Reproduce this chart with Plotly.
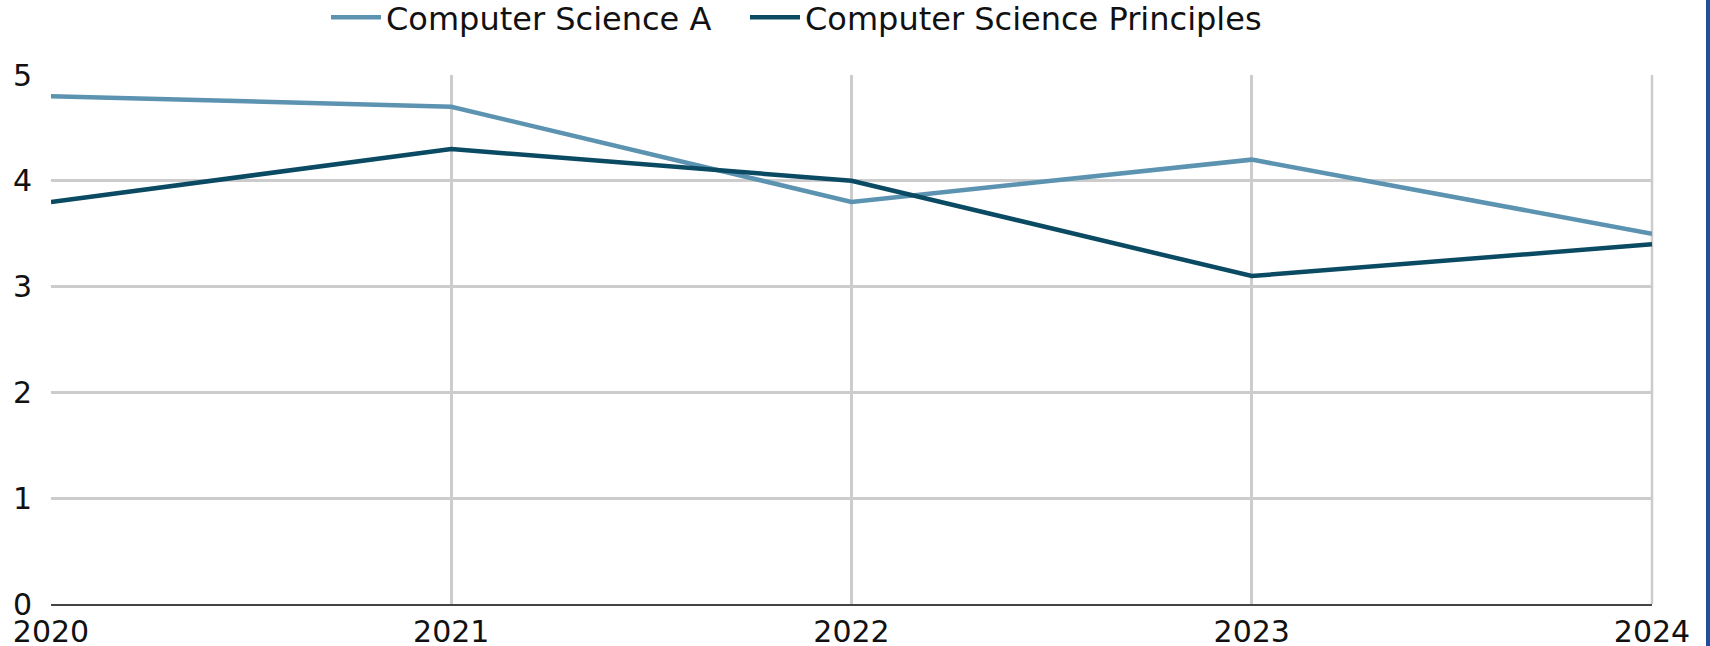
import plotly.graph_objects as go

years = ["2020", "2021", "2022", "2023", "2024"]
cs_a = [4.8, 4.7, 3.8, 4.2, 3.5]
cs_p = [3.8, 4.3, 4.0, 3.1, 3.4]
series_names = ["Computer Science A", "Computer Science Principles"]
series_colors = ["#5b93b1", "#0a4a63"]
y_ticks = [0, 1, 2, 3, 4, 5]

FONT = "DejaVu Sans"
L, T = 51, 75
W, H = 1710, 646
PW, PH = 1601, 529
R, B = W - L - PW, H - T - PH

fig = go.Figure()
for i, (name, vals, col) in enumerate(zip(series_names, [cs_a, cs_p], series_colors)):
    fig.add_trace(go.Scatter(
        x=list(range(len(years))), y=vals, name=name, mode="lines",
        line=dict(color=col, width=4.5),
        legend="legend" if i == 0 else "legend2",
    ))

def legend_box(px_left):
    return dict(orientation="h", x=(px_left - L) / PW, xanchor="left",
                y=(H - B + 10) / PH, yanchor="top",
                font=dict(family=FONT, size=32, color="#111111"),
                itemwidth=50, bgcolor="rgba(0,0,0,0)", borderwidth=0)

fig.update_layout(
    width=W, height=H,
    margin=dict(l=L, r=R, t=T, b=B, autoexpand=False),
    paper_bgcolor="white", plot_bgcolor="white",
    font=dict(family=FONT, size=30, color="#111111"),
    showlegend=True,
    legend=legend_box(326),
    legend2=legend_box(745),
    xaxis=dict(
        tickmode="array", tickvals=list(range(len(years))), ticktext=years,
        range=[0, len(years) - 1], automargin=False,
        showgrid=True, gridcolor="#cccccc", gridwidth=2.5,
        showline=True, linecolor="#444444", linewidth=2,
        ticks="", zeroline=False,
        tickfont=dict(family=FONT, size=30, color="#111111"),
        ticklabelstandoff=0,
    ),
    yaxis=dict(
        tickmode="array", tickvals=y_ticks, ticktext=[str(v) for v in y_ticks],
        range=[0, 5], automargin=False,
        showgrid=True, gridcolor="#cccccc", gridwidth=2.5,
        showline=False, zeroline=False, ticks="",
        tickfont=dict(family=FONT, size=30, color="#111111"),
        ticklabelstandoff=18,
    ),
    shapes=[
        dict(type="line", xref="paper", yref="paper", x0=1.0, x1=1.0, y0=0, y1=1,
             line=dict(color="#cccccc", width=2.5), layer="below"),
        dict(type="rect", xref="paper", yref="paper",
             x0=(1706 - L) / PW, x1=(1712 - L) / PW, y0=-0.3, y1=1.3,
             fillcolor="#1f4e9a", line=dict(width=0)),
    ],
)

fig.write_html(
    "out.html",
    config={"displayModeBar": False},
    post_script="document.body.style.margin='0';document.body.style.overflow='hidden';",
)
